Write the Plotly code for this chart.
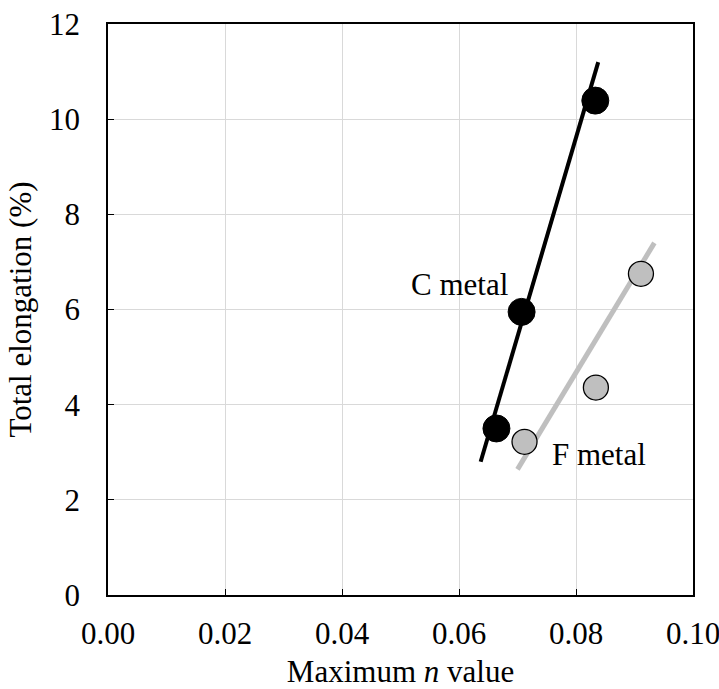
import plotly.graph_objects as go

# Data
c_n = [0.0664, 0.0707, 0.0833]
c_el = [3.50, 5.95, 10.39]
f_n = [0.0712, 0.0834, 0.0911]
f_el = [3.22, 4.36, 6.75]

# Trend line extents
c_trend_n = [0.0637, 0.0838]
c_trend_el = [2.80, 11.20]
f_trend_n = [0.0700, 0.0934]
f_trend_el = [2.64, 7.40]

x_ticks = [0.00, 0.02, 0.04, 0.06, 0.08, 0.10]
y_ticks = [0, 2, 4, 6, 8, 10, 12]

FONT = "Liberation Serif"
FS = 31

fig = go.Figure()
fig.add_trace(go.Scatter(x=f_trend_n, y=f_trend_el, mode="lines",
                         line=dict(color="#bfbfbf", width=5), showlegend=False))
fig.add_trace(go.Scatter(x=f_n, y=f_el, mode="markers",
                         marker=dict(size=25, color="#bfbfbf", line=dict(color="black", width=1.3)),
                         showlegend=False))
fig.add_trace(go.Scatter(x=c_trend_n, y=c_trend_el, mode="lines",
                         line=dict(color="black", width=4), showlegend=False))
fig.add_trace(go.Scatter(x=c_n, y=c_el, mode="markers",
                         marker=dict(size=27, color="black", line=dict(color="black", width=1)),
                         showlegend=False))

fig.add_annotation(x=0.0601, y=6.52, text="C metal", showarrow=False,
                   font=dict(family=FONT, size=FS, color="black"))
fig.add_annotation(x=0.0840, y=2.96, text="F metal", showarrow=False,
                   font=dict(family=FONT, size=FS, color="black"))

axis_common = dict(showline=True, linecolor="black", linewidth=1.5, mirror=True,
                   showgrid=True, gridcolor="#d9d9d9", gridwidth=1.3,
                   ticks="inside", ticklen=6, tickcolor="black", tickwidth=1.3,
                   zeroline=False, automargin=False, ticklabeloverflow="allow",
                   tickfont=dict(family=FONT, size=FS, color="black"))

fig.update_xaxes(range=[0, 0.1], tickvals=x_ticks, ticktext=[f"{v:.2f}" for v in x_ticks],
                 title=dict(text="Maximum <i>n</i> value", font=dict(family=FONT, size=FS, color="black"),
                            standoff=16),
                 ticklabelstandoff=10, **axis_common)
fig.update_yaxes(range=[0, 12], tickvals=y_ticks, ticktext=[str(v) for v in y_ticks],
                 title=dict(text="Total elongation (%)", font=dict(family=FONT, size=FS, color="black"),
                            standoff=8),
                 ticklabelstandoff=20, **axis_common)

fig.update_layout(width=719, height=689, margin=dict(l=108, r=26, t=24, b=94),
                  plot_bgcolor="white", paper_bgcolor="white",
                  font=dict(family=FONT, color="black"))

fig.write_html("out.html")
